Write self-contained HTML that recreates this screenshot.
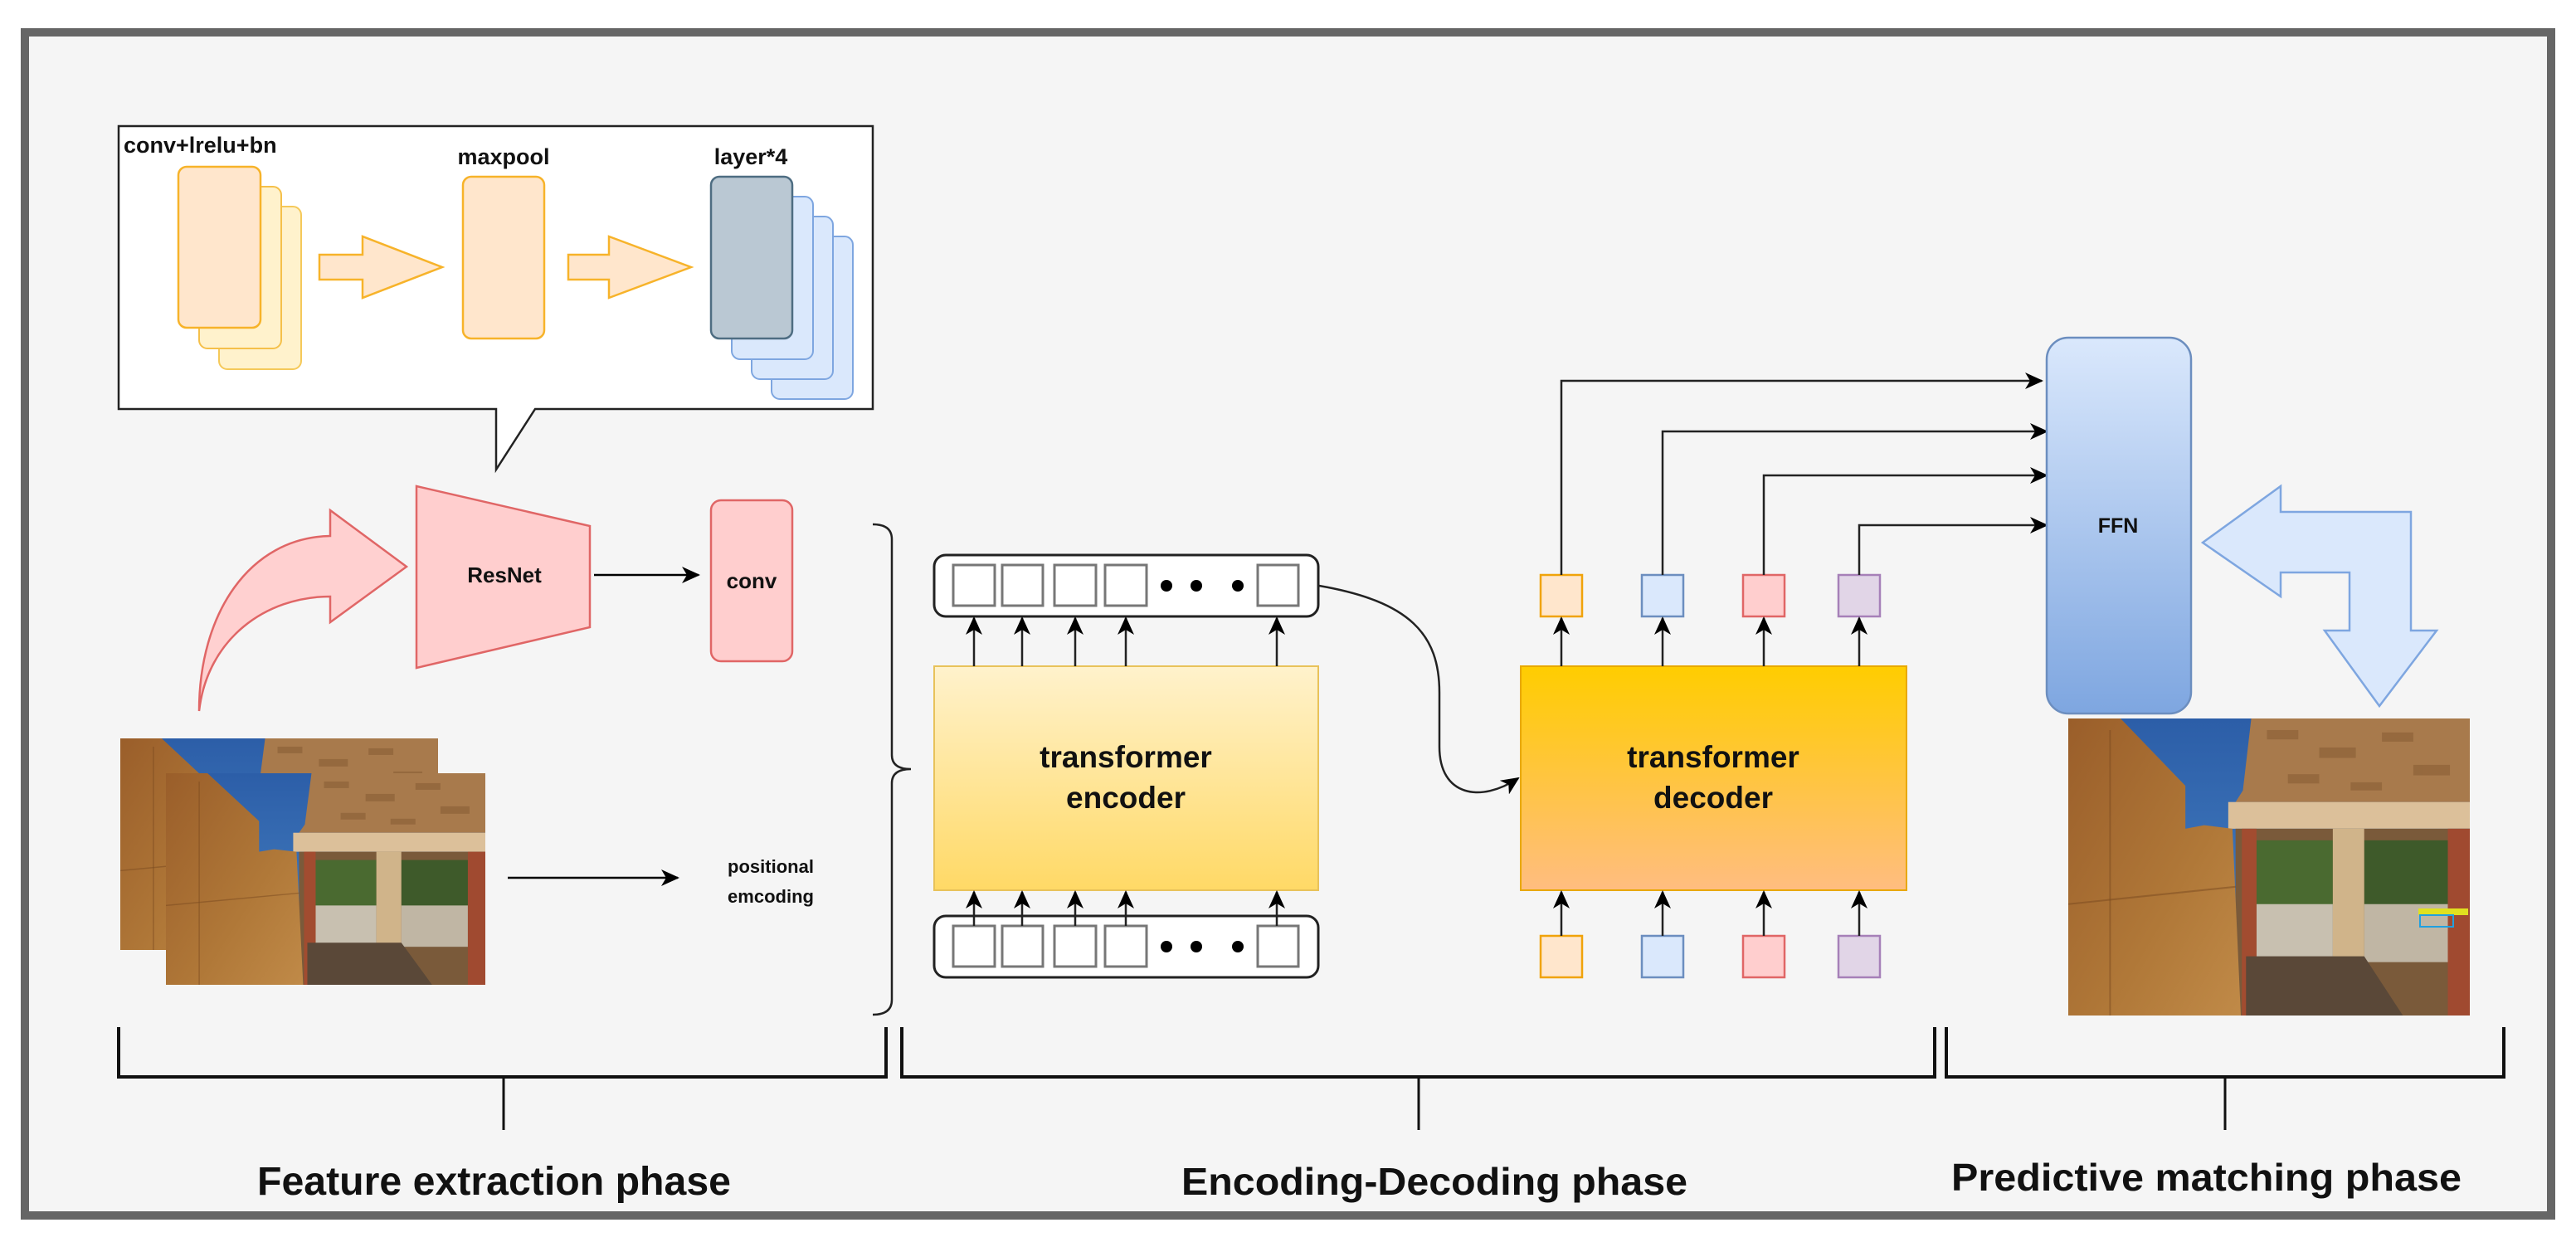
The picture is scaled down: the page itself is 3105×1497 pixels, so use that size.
<!DOCTYPE html>
<html><head><meta charset="utf-8"><style>html,body{margin:0;padding:0;background:#fff}svg{display:block}text{font-family:"Liberation Sans",Arial,sans-serif;font-weight:bold;fill:#111}</style></head><body>
<svg width="3105" height="1497" viewBox="0 0 3105 1497" xmlns="http://www.w3.org/2000/svg">
<defs>
<marker id="ah2" markerWidth="22" markerHeight="20" refX="20" refY="10" orient="auto" markerUnits="userSpaceOnUse" viewBox="0 0 22 20"><path d="M0,0 L22,10 L0,20 L6,10 Z" fill="#000"/></marker>
<linearGradient id="enc" x1="0" y1="0" x2="0" y2="1"><stop offset="0" stop-color="#fff2cc"/><stop offset="1" stop-color="#ffd966"/></linearGradient>
<linearGradient id="dec" x1="0" y1="0" x2="0" y2="1"><stop offset="0" stop-color="#ffcd00"/><stop offset="1" stop-color="#ffbd80"/></linearGradient>
<linearGradient id="ffn" x1="0" y1="0" x2="0" y2="1"><stop offset="0" stop-color="#dae8fc"/><stop offset="1" stop-color="#7ea6e0"/></linearGradient>
<linearGradient id="wall" x1="0" y1="0" x2="1" y2="1"><stop offset="0" stop-color="#9a5e2a"/><stop offset="0.6" stop-color="#b07838"/><stop offset="1" stop-color="#c08a48"/></linearGradient>
<linearGradient id="sky" x1="0" y1="0" x2="0" y2="1"><stop offset="0" stop-color="#2c5ea8"/><stop offset="1" stop-color="#4a86c6"/></linearGradient>
<symbol id="photo" viewBox="0 0 384 256" preserveAspectRatio="none">
<rect width="384" height="256" fill="url(#sky)"/>
<polygon points="175,0 384,0 384,72 160,72 167,62" fill="#a87a4c"/>
<g fill="#8a5e36" opacity="0.6"><rect x="190" y="10" width="30" height="8"/><rect x="240" y="25" width="35" height="9"/><rect x="300" y="12" width="30" height="8"/><rect x="330" y="40" width="35" height="9"/><rect x="210" y="48" width="30" height="8"/><rect x="270" y="55" width="30" height="7"/></g>
<rect x="153" y="72" width="231" height="23" fill="#dcc09a"/>
<rect x="160" y="95" width="224" height="161" fill="#7a5a3a"/>
<rect x="180" y="105" width="73" height="60" fill="#4a6a30"/>
<rect x="180" y="160" width="73" height="50" fill="#c8c0b0"/>
<rect x="283" y="105" width="80" height="60" fill="#3e5a2a"/>
<rect x="283" y="160" width="80" height="50" fill="#c0b6a4"/>
<rect x="253" y="95" width="30" height="161" fill="#d0b48a"/>
<rect x="363" y="95" width="21" height="161" fill="#a04a30"/>
<rect x="166" y="95" width="14" height="161" fill="#a24c30"/>
<polygon points="170,205 283,205 320,256 170,256" fill="#5a4838"/>
<polygon points="0,0 50,0 112,58 112,95 130,92 157,95 165,256 0,256" fill="url(#wall)"/>
<line x1="40" y1="10" x2="40" y2="256" stroke="#7a4a20" stroke-width="1.5" opacity="0.5"/>
<line x1="0" y1="160" x2="160" y2="145" stroke="#7a4a20" stroke-width="1.5" opacity="0.5"/>
</symbol>
</defs>
<rect x="0" y="0" width="3105" height="1497" fill="#fff"/>
<rect x="30" y="39" width="3045" height="1426" fill="#f5f5f5" stroke="#666" stroke-width="10"/>

<path d="M143,152 L1052,152 L1052,493 L645,493 L598,566 L598,493 L143,493 Z" fill="#fff" stroke="#222" stroke-width="2.5"/>
<text x="149" y="184" font-size="27">conv+lrelu+bn</text>
<text x="607" y="198" font-size="27" text-anchor="middle">maxpool</text>
<text x="905" y="198" font-size="27" text-anchor="middle">layer*4</text>
<rect x="264" y="249" width="99" height="196" rx="10" fill="#fff2cc" stroke="#f5c95a" stroke-width="2"/>
<rect x="240" y="225" width="99" height="195" rx="10" fill="#fff2cc" stroke="#f5c04a" stroke-width="2"/>
<rect x="215" y="201" width="99" height="194" rx="10" fill="#ffe6cc" stroke="#f7b32a" stroke-width="2.5"/>
<polygon points="385,307 437,307 437,285 533,322 437,359 437,337 385,337" fill="#ffe6cc" stroke="#f7b32a" stroke-width="2.5"/>
<rect x="558" y="213" width="98" height="195" rx="10" fill="#ffe6cc" stroke="#f7b32a" stroke-width="2.5"/>
<polygon points="685,307 734,307 734,285 833,322 734,359 734,337 685,337" fill="#ffe6cc" stroke="#f7b32a" stroke-width="2.5"/>
<rect x="930" y="285" width="98" height="196" rx="10" fill="#dae8fc" stroke="#7ea6e0" stroke-width="2"/>
<rect x="906" y="261" width="98" height="196" rx="10" fill="#dae8fc" stroke="#7ea6e0" stroke-width="2"/>
<rect x="882" y="237" width="98" height="196" rx="10" fill="#dae8fc" stroke="#7ea6e0" stroke-width="2"/>
<rect x="857" y="213" width="98" height="195" rx="10" fill="#bac8d3" stroke="#4e6d82" stroke-width="2.5"/>

<path d="M240,857 C240,740 300,648 398,646 L398,615 L490,683 L398,750 L398,719 C320,719 250,770 240,857 Z" fill="#ffd0d0" stroke="#e06666" stroke-width="2.5"/>
<polygon points="502,586 711,634 711,756 502,805" fill="#ffcece" stroke="#e06666" stroke-width="2.5"/>
<text x="608" y="702" font-size="26" text-anchor="middle">ResNet</text>
<line x1="716" y1="693" x2="842" y2="693" stroke="#000" stroke-width="2.5" marker-end="url(#ah2)"/>
<rect x="857" y="603" width="98" height="194" rx="12" fill="#ffcece" stroke="#e06666" stroke-width="2.5"/>
<text x="906" y="709" font-size="26" text-anchor="middle">conv</text>

<use href="#photo" x="145" y="890" width="383" height="255"/>
<use href="#photo" x="200" y="932" width="385" height="255"/>
<line x1="612" y1="1058" x2="817" y2="1058" stroke="#000" stroke-width="2.5" marker-end="url(#ah2)"/>
<text x="929" y="1052" font-size="22" text-anchor="middle">positional</text>
<text x="929" y="1088" font-size="22" text-anchor="middle">emcoding</text>

<path d="M1052,632 Q1075,632 1075,650 L1075,910 Q1075,927 1098,927 Q1075,927 1075,944 L1075,1205 Q1075,1223 1052,1223" fill="none" stroke="#222" stroke-width="2.5"/>

<rect x="1126" y="669" width="463" height="74" rx="14" fill="#fff" stroke="#222" stroke-width="3"/>
<g fill="#fff" stroke="#777" stroke-width="3">
<rect x="1149" y="681" width="50" height="49"/><rect x="1208" y="681" width="49" height="49"/><rect x="1271" y="681" width="50" height="49"/><rect x="1332" y="681" width="50" height="49"/><rect x="1516" y="681" width="49" height="49"/>
</g>
<circle cx="1406" cy="706" r="7"/><circle cx="1442" cy="706" r="7"/><circle cx="1492" cy="706" r="7"/>
<rect x="1126" y="803" width="463" height="270" fill="url(#enc)" stroke="#e8c25a" stroke-width="2"/>
<text x="1357" y="925" font-size="37" text-anchor="middle">transformer</text>
<text x="1357" y="974" font-size="37" text-anchor="middle">encoder</text>
<g stroke="#222" stroke-width="2.5" marker-end="url(#ah2)">
<line x1="1174" y1="803" x2="1174" y2="745"/><line x1="1232" y1="803" x2="1232" y2="745"/><line x1="1296" y1="803" x2="1296" y2="745"/><line x1="1357" y1="803" x2="1357" y2="745"/><line x1="1539" y1="803" x2="1539" y2="745"/>
</g>
<rect x="1126" y="1104" width="463" height="74" rx="14" fill="#fff" stroke="#222" stroke-width="3"/>
<g fill="#fff" stroke="#777" stroke-width="3">
<rect x="1149" y="1116" width="50" height="49"/><rect x="1208" y="1116" width="49" height="49"/><rect x="1271" y="1116" width="50" height="49"/><rect x="1332" y="1116" width="50" height="49"/><rect x="1516" y="1116" width="49" height="49"/>
</g>
<circle cx="1406" cy="1141" r="7"/><circle cx="1442" cy="1141" r="7"/><circle cx="1492" cy="1141" r="7"/>
<g stroke="#222" stroke-width="2.5" marker-end="url(#ah2)">
<line x1="1174" y1="1116" x2="1174" y2="1075"/><line x1="1232" y1="1116" x2="1232" y2="1075"/><line x1="1296" y1="1116" x2="1296" y2="1075"/><line x1="1357" y1="1116" x2="1357" y2="1075"/><line x1="1539" y1="1116" x2="1539" y2="1075"/>
</g>
<path d="M1590,706 C1700,725 1735,765 1735,835 L1735,900 C1735,960 1785,968 1830,938" fill="none" stroke="#222" stroke-width="2.5" marker-end="url(#ah2)"/>

<rect x="1833" y="803" width="465" height="270" fill="url(#dec)" stroke="#e8a800" stroke-width="2"/>
<text x="2065" y="925" font-size="37" text-anchor="middle">transformer</text>
<text x="2065" y="974" font-size="37" text-anchor="middle">decoder</text>
<rect x="1857" y="693" width="50" height="50" fill="#ffe6cc" stroke="#f0a30a" stroke-width="2.5"/>
<rect x="1979" y="693" width="50" height="50" fill="#dae8fc" stroke="#6c8ebf" stroke-width="2.5"/>
<rect x="2101" y="693" width="50" height="50" fill="#ffcece" stroke="#e06666" stroke-width="2.5"/>
<rect x="2216" y="693" width="50" height="50" fill="#e1d5e7" stroke="#a680b8" stroke-width="2.5"/>
<rect x="1857" y="1128" width="50" height="50" fill="#ffe6cc" stroke="#f0a30a" stroke-width="2.5"/>
<rect x="1979" y="1128" width="50" height="50" fill="#dae8fc" stroke="#6c8ebf" stroke-width="2.5"/>
<rect x="2101" y="1128" width="50" height="50" fill="#ffcece" stroke="#e06666" stroke-width="2.5"/>
<rect x="2216" y="1128" width="50" height="50" fill="#e1d5e7" stroke="#a680b8" stroke-width="2.5"/>
<g stroke="#222" stroke-width="2.5" marker-end="url(#ah2)">
<line x1="1882" y1="803" x2="1882" y2="745"/><line x1="2004" y1="803" x2="2004" y2="745"/><line x1="2126" y1="803" x2="2126" y2="745"/><line x1="2241" y1="803" x2="2241" y2="745"/>
<line x1="1882" y1="1128" x2="1882" y2="1075"/><line x1="2004" y1="1128" x2="2004" y2="1075"/><line x1="2126" y1="1128" x2="2126" y2="1075"/><line x1="2241" y1="1128" x2="2241" y2="1075"/>
</g>
<g stroke="#222" stroke-width="2.5" fill="none" marker-end="url(#ah2)">
<path d="M1882,693 L1882,459 L2461,459"/>
<path d="M2004,693 L2004,520 L2467,520"/>
<path d="M2126,693 L2126,573 L2467,573"/>
<path d="M2241,693 L2241,633 L2467,633"/>
</g>

<rect x="2467" y="407" width="174" height="453" rx="26" fill="url(#ffn)" stroke="#6c8ebf" stroke-width="2.5"/>
<text x="2553" y="642" font-size="25" text-anchor="middle">FFN</text>
<polygon points="2655,654 2749,586 2749,617 2906,617 2906,760 2937,760 2868,851 2802,760 2832,760 2832,690 2749,690 2749,719" fill="#dae8fc" stroke="#7ea6e0" stroke-width="2.5"/>
<use href="#photo" x="2493" y="866" width="484" height="358"/>
<rect x="2915" y="1095" width="60" height="8" fill="#e0e020"/>
<rect x="2917" y="1103" width="40" height="14" fill="none" stroke="#20a0e0" stroke-width="2"/>

<g stroke="#111" fill="none">
<path d="M143,1238 L143,1298 L1068,1298 L1068,1238" stroke-width="4"/>
<path d="M1087,1238 L1087,1298 L2332,1298 L2332,1238" stroke-width="4"/>
<path d="M2346,1238 L2346,1298 L3018,1298 L3018,1238" stroke-width="4"/>
<line x1="607" y1="1298" x2="607" y2="1362" stroke-width="3"/>
<line x1="1710" y1="1298" x2="1710" y2="1362" stroke-width="3"/>
<line x1="2682" y1="1298" x2="2682" y2="1362" stroke-width="3"/>
</g>
<text x="310" y="1440" font-size="48" textLength="571" lengthAdjust="spacingAndGlyphs">Feature extraction phase</text>
<text x="1424" y="1440" font-size="46" textLength="610" lengthAdjust="spacingAndGlyphs">Encoding-Decoding phase</text>
<text x="2352" y="1435" font-size="46" textLength="615" lengthAdjust="spacingAndGlyphs">Predictive matching phase</text>
</svg>
</body></html>
